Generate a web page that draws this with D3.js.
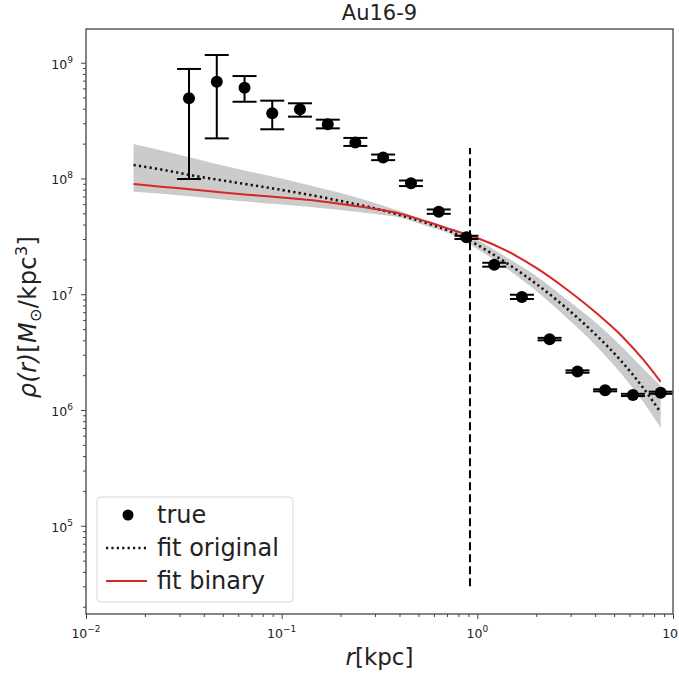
<!DOCTYPE html>
<html>
<head>
<meta charset="utf-8">
<script src="https://cdn.jsdelivr.net/npm/d3@7"></script>
<style>
  body { margin: 0; background: #fff; }
  text { font-family: "DejaVu Sans", sans-serif; fill: #222; }
</style>
</head>
<body>
<div id="graph"></div>
<script>
// measured profile (points with y error bars)
var radius = [0.0336, 0.0466, 0.0646, 0.0895, 0.124, 0.172, 0.238, 0.330, 0.458,
              0.635, 0.880, 1.22, 1.69, 2.34, 3.25, 4.50, 6.24, 8.65]
var density = [4.93e8, 6.85e8, 6.08e8, 3.66e8, 3.96e8, 2.94e8, 2.05e8, 1.52e8, 9.09e7,
               5.17e7, 3.10e7, 1.80e7, 9.48e6, 4.09e6, 2.15e6, 1.48e6, 1.35e6, 1.41e6]
var densityLow = [9.9e7, 2.22e8, 4.60e8, 2.66e8, 3.42e8, 2.71e8, 1.91e8, 1.44e8, 8.6e7,
                  4.95e7, 3.0e7, 1.73e7, 9.1e6, 4.0e6, 2.1e6, 1.45e6, 1.32e6, 1.38e6]
var densityHigh = [8.83e8, 1.165e9, 7.67e8, 4.70e8, 4.46e8, 3.22e8, 2.24e8, 1.61e8, 9.6e7,
                   5.4e7, 3.2e7, 1.87e7, 9.9e6, 4.2e6, 2.2e6, 1.51e6, 1.38e6, 1.44e6]

// fitted curves
var fitRadius = [0.0175, 0.025, 0.035, 0.05, 0.07, 0.1, 0.14, 0.2, 0.3, 0.4,
                 0.55, 0.75, 1.0, 1.4, 2.0, 2.8, 4.0, 5.5, 7.0, 8.65]
var fitOriginal = [1.308e8, 1.184e8, 1.061e8, 9.61e7, 8.79e7, 7.96e7, 7.20e7, 6.39e7, 5.51e7, 4.84e7,
                   4.13e7, 3.42e7, 2.67e7, 1.875e7, 1.23e7, 7.80e6, 4.53e6, 2.59e6, 1.574e6, 9.53e5]
var fitBinary = [8.96e7, 8.45e7, 8.04e7, 7.57e7, 7.20e7, 6.85e7, 6.52e7, 6.02e7, 5.45e7, 4.99e7,
                 4.25e7, 3.59e7, 3.06e7, 2.39e7, 1.687e7, 1.133e7, 7.03e6, 4.32e6, 2.76e6, 1.75e6]
var bandHigh = [1.986e8, 1.728e8, 1.503e8, 1.295e8, 1.138e8, 1.0e8, 8.70e7, 7.49e7, 6.14e7, 5.24e7,
                4.30e7, 3.59e7, 2.94e7, 2.10e7, 1.439e7, 9.29e6, 5.77e6, 3.51e6, 2.31e6, 1.615e6]
var bandLow = [7.69e7, 7.35e7, 6.99e7, 6.59e7, 6.27e7, 5.96e7, 5.67e7, 5.35e7, 4.94e7, 4.61e7,
               3.89e7, 3.25e7, 2.46e7, 1.687e7, 1.068e7, 6.49e6, 3.65e6, 2.01e6, 1.198e6, 7.0e5]

// vertical marker
var markerRadius = 0.917
var markerSpan = [3.0e4, 1.83e8]

var xTicks = [-2, -1, 0, 1]
var yTicks = [5, 6, 7, 8, 9]

var margin = { top: 29, right: 6, bottom: 60, left: 86 },
    width = 679 - margin.left - margin.right,
    height = 674 - margin.top - margin.bottom;

var svg = d3.select("#graph")
    .append("svg")
    .attr("width", 679)
    .attr("height", 674)
    .append("g")
    .attr("transform", "translate(" + margin.left + "," + margin.top + ")");

var x = d3.scaleLog().domain([0.01, 10]).range([0, width])
var y = d3.scaleLog().domain([1.73e4, 1.955e9]).range([height, 0])

svg.append("clipPath").attr("id", "clip")
    .append("rect").attr("width", width).attr("height", height)
var plot = svg.append("g").attr("clip-path", "url(#clip)")

// uncertainty band
var band = fitRadius.map(function (r, i) { return { r: r, lo: bandLow[i], hi: bandHigh[i] } })
plot.append("path")
    .datum(band)
    .attr("fill", "#cbcbcb")
    .attr("d", d3.area()
        .x(function (d) { return x(d.r) })
        .y0(function (d) { return y(d.lo) })
        .y1(function (d) { return y(d.hi) })
        .curve(d3.curveMonotoneX))

var line = d3.line()
    .x(function (d) { return x(d[0]) })
    .y(function (d) { return y(d[1]) })
    .curve(d3.curveMonotoneX)

plot.append("path")
    .datum(d3.zip(fitRadius, fitOriginal))
    .attr("fill", "none").attr("stroke", "#111").attr("stroke-width", 2.6)
    .attr("stroke-dasharray", "2.2,3.2")
    .attr("d", line)

plot.append("path")
    .datum(d3.zip(fitRadius, fitBinary))
    .attr("fill", "none").attr("stroke", "#d62728").attr("stroke-width", 2)
    .attr("d", line)

// dashed vertical line
plot.append("line")
    .attr("x1", x(markerRadius)).attr("x2", x(markerRadius))
    .attr("y1", y(markerSpan[0])).attr("y2", y(markerSpan[1]))
    .attr("stroke", "#000").attr("stroke-width", 2)
    .attr("stroke-dasharray", "8,4")

// error bars + points
var pts = radius.map(function (r, i) { return { r: r, v: density[i], lo: densityLow[i], hi: densityHigh[i] } })
var cap = 12
var eb = plot.append("g").attr("stroke", "#000").attr("stroke-width", 2)
pts.forEach(function (d) {
    eb.append("line").attr("x1", x(d.r)).attr("x2", x(d.r)).attr("y1", y(d.lo)).attr("y2", y(d.hi))
    eb.append("line").attr("x1", x(d.r) - cap).attr("x2", x(d.r) + cap).attr("y1", y(d.lo)).attr("y2", y(d.lo))
    eb.append("line").attr("x1", x(d.r) - cap).attr("x2", x(d.r) + cap).attr("y1", y(d.hi)).attr("y2", y(d.hi))
})
svg.append("g").selectAll("circle")
    .data(pts).enter().append("circle")
    .attr("cx", function (d) { return x(d.r) })
    .attr("cy", function (d) { return y(d.v) })
    .attr("r", 6).attr("fill", "#000")

// axes
function minorTicks(lo, hi) {
    var out = []
    for (var e = lo; e < hi; e++) for (var m = 2; m < 10; m++) out.push(m * Math.pow(10, e))
    return out
}
var frame = "#444"
var gx = svg.append("g").attr("transform", "translate(0," + height + ")")
gx.call(d3.axisBottom(x).tickValues(xTicks.map(function (e) { return Math.pow(10, e) })).tickSize(5).tickFormat(""))
gx.append("g").call(d3.axisBottom(x).tickValues(minorTicks(-2, 1)).tickSize(3).tickFormat(""))
var gy = svg.append("g")
gy.call(d3.axisLeft(y).tickValues(yTicks.map(function (e) { return Math.pow(10, e) })).tickSize(5).tickFormat(""))
gy.append("g").call(d3.axisLeft(y).tickValues(minorTicks(4, 9).filter(function (v) { return v > 1.73e4 && v < 1.955e9 })).tickSize(3).tickFormat(""))
svg.selectAll(".domain").remove()
svg.selectAll(".tick line").attr("stroke", frame).attr("stroke-width", 1)

xTicks.forEach(function (e) {
    var t = svg.append("text").attr("x", x(Math.pow(10, e))).attr("y", height + 24)
        .attr("text-anchor", "middle").style("font-size", "12.5px")
    t.append("tspan").text("10")
    t.append("tspan").attr("dy", -6).style("font-size", "9px").text(String(e).replace("-", "\u2212"))
})
yTicks.forEach(function (e) {
    var t = svg.append("text").attr("x", -13).attr("y", y(Math.pow(10, e)) + 6)
        .attr("text-anchor", "end").style("font-size", "12.5px")
    t.append("tspan").text("10")
    t.append("tspan").attr("dy", -6).style("font-size", "9px").text(e)
})

svg.append("rect").attr("width", width).attr("height", height)
    .attr("fill", "none").attr("stroke", frame).attr("stroke-width", 1.3)

// labels
svg.append("text").attr("x", width / 2).attr("y", -9).attr("text-anchor", "middle")
    .style("font-size", "21px").text("Au16-9")

var xl = svg.append("text").attr("x", width / 2).attr("y", height + 51).attr("text-anchor", "middle")
    .style("font-size", "23px")
xl.append("tspan").style("font-style", "italic").text("r")
xl.append("tspan").text("[kpc]")

var yl = svg.append("text").attr("transform", "translate(-50,288) rotate(-90)")
    .attr("text-anchor", "middle").style("font-size", "24px").style("letter-spacing", "0.4px")
yl.append("tspan").style("font-style", "italic").text("\u03c1(r)")
yl.append("tspan").text("[")
yl.append("tspan").style("font-style", "italic").text("M")
yl.append("tspan").attr("dy", 5).style("font-size", "16px").text("\u2299")
yl.append("tspan").attr("dy", -5).text("/kpc")
yl.append("tspan").attr("dy", -9).style("font-size", "16px").text("3")
yl.append("tspan").attr("dy", 9).text("]")

// legend
var lg = svg.append("g").attr("transform", "translate(11,468)")
lg.append("rect").attr("width", 196).attr("height", 105).attr("rx", 4)
    .attr("fill", "#fff").attr("fill-opacity", 0.8).attr("stroke", "#d6d6d6")
var items = ["true", "fit original", "fit binary"]
items.forEach(function (label, i) {
    var cy = 18 + i * 33
    if (i == 0) lg.append("circle").attr("cx", 31).attr("cy", cy).attr("r", 5.5).attr("fill", "#000")
    if (i == 1) lg.append("line").attr("x1", 9).attr("x2", 50).attr("y1", cy).attr("y2", cy)
        .attr("stroke", "#111").attr("stroke-width", 2.6).attr("stroke-dasharray", "2.2,3.2")
    if (i == 2) lg.append("line").attr("x1", 9).attr("x2", 50).attr("y1", cy).attr("y2", cy)
        .attr("stroke", "#d62728").attr("stroke-width", 2)
    lg.append("text").attr("x", 60).attr("y", cy + 8).style("font-size", "24px").text(label)
})
</script>
</body>
</html>
